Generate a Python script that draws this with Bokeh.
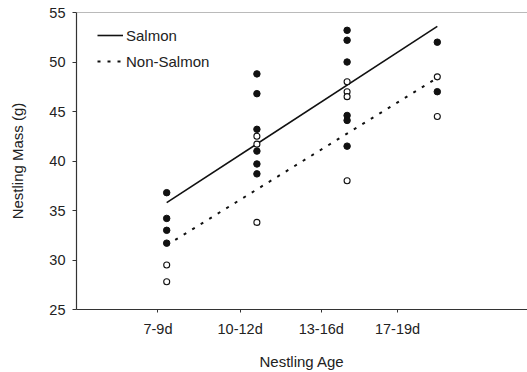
import numpy as np
from bokeh.plotting import figure
from bokeh.models import FixedTicker, Legend, LegendItem, Span, Range1d
from bokeh.embed import file_html
from bokeh.resources import INLINE

# ---- data ----
ages = ["7-9d", "10-12d", "13-16d", "17-19d"]
salmon_7_9d = [36.8, 34.2, 33.0, 31.7]
salmon_10_12d = [48.8, 46.8, 43.2, 41.0, 39.7, 38.7]
salmon_13_16d = [53.2, 52.2, 50.0, 44.6, 44.1, 41.5]
salmon_17_19d = [52.0, 47.0]
nonsalmon_7_9d = [29.5, 27.8]
nonsalmon_10_12d = [42.5, 41.7, 33.8]
nonsalmon_13_16d = [48.0, 47.0, 46.5, 38.0]
nonsalmon_17_19d = [48.5, 44.5]
salmon_fit = [35.8, 53.6]      # regression line at first and last age group
nonsalmon_fit = [31.5, 48.4]

salmon_groups = [salmon_7_9d, salmon_10_12d, salmon_13_16d, salmon_17_19d]
nonsalmon_groups = [nonsalmon_7_9d, nonsalmon_10_12d, nonsalmon_13_16d, nonsalmon_17_19d]


def flatten(groups):
    xs, ys = [], []
    for i, g in enumerate(groups):
        xs += [i + 1] * len(g)
        ys += list(g)
    return xs, ys


sx, sy = flatten(salmon_groups)
nx, ny = flatten(nonsalmon_groups)
fit_x = [1, len(ages)]

FONT = "Liberation Sans"
TXT = "#222222"

p = figure(width=527, height=372, output_backend="svg", toolbar_location=None,
           x_range=Range1d(0, 5), y_range=Range1d(25, 55),
           min_border_left=76, min_border_right=0, min_border_top=12, min_border_bottom=61)
p.outline_line_color = None
p.grid.grid_line_color = None
p.background_fill_color = "white"
p.border_fill_color = "white"

# regression lines
l_s = p.line(fit_x, salmon_fit, line_color="#111111", line_width=1.6)
l_n = p.line(fit_x, nonsalmon_fit, line_color="#111111", line_width=2, line_dash="3 7")

# points
p.scatter(sx, sy, size=6.5, fill_color="#111111", line_color="#111111", line_width=1)
p.scatter(nx, ny, size=6, fill_color="white", line_color="#111111", line_width=1.1)

# top frame line
p.add_layout(Span(location=55, dimension="width", line_color="#777777", line_width=1))

# axes
tick_pos = [0.903, 1.814, 2.714, 3.559]
p.xaxis.ticker = FixedTicker(ticks=tick_pos)
p.xaxis.major_label_overrides = {t: a for t, a in zip(tick_pos, ages)}
p.yaxis.ticker = FixedTicker(ticks=[25, 30, 35, 40, 45, 50, 55])

for ax in (p.xaxis, p.yaxis):
    ax.axis_line_color = "#333333"
    ax.axis_line_width = 1.2
    ax.major_tick_line_color = "#333333"
    ax.minor_tick_line_color = None
    ax.major_tick_in = 0
    ax.major_label_text_font = FONT
    ax.major_label_text_font_size = "14.5px"
    ax.major_label_text_color = TXT
    ax.axis_label_text_font = FONT
    ax.axis_label_text_font_size = "15px"
    ax.axis_label_text_font_style = "normal"
    ax.axis_label_text_color = TXT

p.xaxis.major_tick_out = 3
p.yaxis.major_tick_out = 4
p.xaxis.major_label_standoff = 8
p.yaxis.major_label_standoff = 7
p.xaxis.axis_label = "Nestling Age"
p.yaxis.axis_label = "Nestling Mass (g)"
p.xaxis.axis_label_standoff = 13
p.yaxis.axis_label_standoff = 20

legend = Legend(items=[LegendItem(label="Salmon", renderers=[l_s]),
                       LegendItem(label="Non-Salmon", renderers=[l_n])],
                location=(21, 238), orientation="vertical")
legend.padding = 0
legend.margin = 0
legend.spacing = 6
legend.glyph_width = 26
legend.glyph_height = 20
legend.label_standoff = 3
legend.label_text_font = FONT
legend.label_text_font_size = "15px"
legend.label_text_color = TXT
legend.border_line_color = None
legend.background_fill_alpha = 0
p.add_layout(legend)

open("out.html", "w").write(file_html(p, INLINE))
